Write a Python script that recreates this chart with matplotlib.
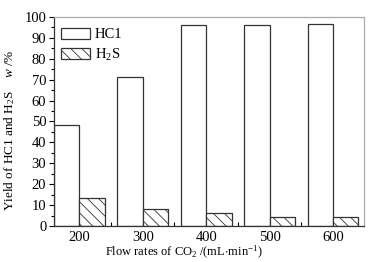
import numpy as np
import matplotlib
matplotlib.use("Agg")
import matplotlib.pyplot as plt

# data
flow_rates = ["200", "300", "400", "500", "600"]
hcl_yield = [48.2, 71.3, 96.0, 96.3, 96.7]
h2s_yield = [13.4, 8.0, 6.0, 4.5, 4.5]

plt.rcParams["font.family"] = ["Liberation Serif", "DejaVu Serif"]
plt.rcParams["font.size"] = 10
plt.rcParams["mathtext.fontset"] = "custom"
plt.rcParams["mathtext.rm"] = "Liberation Serif"
plt.rcParams["mathtext.it"] = "Liberation Serif:italic"
plt.rcParams["mathtext.default"] = "regular"
plt.rcParams["hatch.linewidth"] = 0.6
plt.rcParams["hatch.color"] = "#333333"

fig = plt.figure(figsize=(3.76, 2.62), dpi=100)
ax = fig.add_axes([54 / 376, 1 - 226 / 262, 310 / 376, 209 / 262])

x = np.arange(len(flow_rates))
w = 0.4
ax.bar(x - w / 2, hcl_yield, w, facecolor="white", edgecolor="#333333",
       linewidth=0.9, label="HC1")
ax.bar(x + w / 2, h2s_yield, w, facecolor="white", edgecolor="#333333",
       linewidth=0.9, hatch="\\\\\\", label="H$_2$S")

ax.set_xlim(-0.4, 4.49)
ax.set_ylim(0, 100)
ax.set_yticks(np.arange(0, 101, 10))
ax.set_yticks(np.arange(5, 100, 10), minor=True)
ax.set_xticks(x)
ax.set_xticklabels(flow_rates)
ax.set_xticks(x[:-1] + 0.5, minor=True)

ax.tick_params(axis="y", which="major", direction="out", length=3.5, width=0.8,
               labelsize=10.5, pad=2)
ax.tick_params(axis="y", which="minor", direction="out", length=2, width=0.8)
ax.tick_params(axis="x", which="major", length=0, pad=3.5, labelsize=10.5)
ax.tick_params(axis="x", which="minor", direction="in", length=3, width=0.8)

for side in ["left", "bottom"]:
    ax.spines[side].set_color("#333333")
    ax.spines[side].set_linewidth(0.9)
for side in ["top", "right"]:
    ax.spines[side].set_color("#aaaaaa")
    ax.spines[side].set_linewidth(0.9)

ax.set_xlabel("Flow rates of CO$_2$ /(mL$\\cdot$min$^{-1}$)", fontsize=9)
ax.xaxis.set_label_coords(0.42, -0.088)
ax.set_ylabel("Yield of HC1 and H$_2$S    $\\mathit{w}$ /%", fontsize=9.5)
ax.yaxis.set_label_coords(-0.12, 0.46)

ax.legend(loc="upper left", frameon=False, handlelength=2.0, handleheight=0.75,
          handletextpad=0.3, labelspacing=0.35, borderaxespad=0.0,
          fontsize=10.5, bbox_to_anchor=(0.004, 0.975))

fig.savefig("out.png", dpi=100)
